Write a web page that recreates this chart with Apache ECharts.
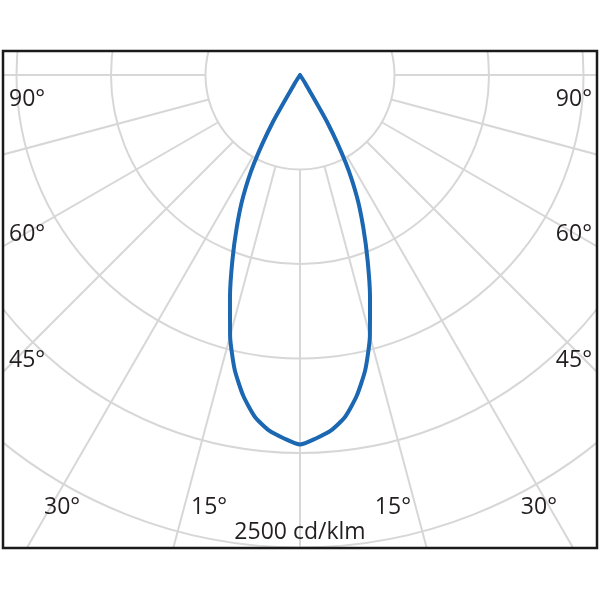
<!DOCTYPE html>
<html>
<head>
<meta charset="utf-8">
<script src="https://cdn.jsdelivr.net/npm/echarts@6/dist/echarts.min.js"></script>
<style>
html,body{margin:0;padding:0;background:#fff;}
#chart{width:600px;height:600px;}
</style>
</head>
<body>
<div id="chart"></div>
<script>
// Polar intensity profile (cd/klm), angle measured from nadir (degrees)
var profileAngles = [0, 2.5, 5, 7.5, 10, 12.5, 15, 17.5, 20, 22.5, 25, 27.5, 30, 32.5, 35];
var profileValues = [1955, 1925, 1888, 1825, 1725, 1597, 1429, 1232, 1047, 876, 714, 525, 287, 50, 0];
// Grid definition
var ringValues = [500, 1000, 1500, 2000, 2500, 3000, 3500];
var spokeAngles = [-90, -75, -60, -45, -30, -15, 0, 15, 30, 45, 60, 75, 90];
var angleLabels = ['90°', '60°', '45°', '30°', '15°'];
var scaleLabel = '2500 cd/klm';

var chart = echarts.init(document.getElementById('chart'));

// curve: right side uses negative angles, left side positive
var curve = [];
for (var i = profileAngles.length - 1; i >= 0; i--) curve.push([profileValues[i], -profileAngles[i]]);
for (var j = 1; j < profileAngles.length; j++) curve.push([profileValues[j], profileAngles[j]]);

var series = [];
spokeAngles.forEach(function (a) {
  series.push({
    type: 'line', coordinateSystem: 'polar', silent: true, symbol: 'none', z: 1,
    lineStyle: {color: '#d7d7d7', width: 2},
    data: [[ringValues[0], a], [ringValues[ringValues.length - 1], a]],
    animation: false
  });
});
series.push({
  type: 'line', coordinateSystem: 'polar', symbol: 'none', smooth: 0.2, z: 5,
  lineStyle: {color: '#1b67b2', width: 4, cap: 'round', join: 'round'},
  data: curve, animation: false
});

var font = '"Open Sans", "Noto Sans", sans-serif';
var tc = '#231f20';
function txt(t, x, y, align) {
  return {type: 'text', z: 30, style: {text: t, x: x, y: y, align: align || 'left', verticalAlign: 'middle', font: '23px ' + font, fill: tc}};
}
var graphics = [
  {type: 'rect', z: 20, shape: {x: 0, y: 0, width: 600, height: 50}, style: {fill: '#fff'}},
  {type: 'rect', z: 20, shape: {x: 0, y: 549, width: 600, height: 51}, style: {fill: '#fff'}},
  {type: 'rect', z: 20, shape: {x: 0, y: 0, width: 2, height: 600}, style: {fill: '#fff'}},
  {type: 'rect', z: 20, shape: {x: 598, y: 0, width: 2, height: 600}, style: {fill: '#fff'}},
  {type: 'rect', z: 25, shape: {x: 3, y: 51, width: 594, height: 497}, style: {fill: 'none', stroke: '#1a1a1a', lineWidth: 2.5}},
  txt(angleLabels[0], 9, 99), txt(angleLabels[0], 592, 99, 'right'),
  txt(angleLabels[1], 9, 234), txt(angleLabels[1], 592, 234, 'right'),
  txt(angleLabels[2], 9, 360), txt(angleLabels[2], 592, 360, 'right'),
  txt(angleLabels[3], 44, 507), txt(angleLabels[3], 557, 507, 'right'),
  txt(angleLabels[4], 191, 507), txt(angleLabels[4], 411, 507, 'right'),
  txt(scaleLabel, 300, 532, 'center')
];

chart.setOption({
  animation: false,
  backgroundColor: '#fff',
  polar: {center: [300, 75], radius: 661.5},
  angleAxis: {
    type: 'value', min: -180, max: 180, startAngle: 90, clockwise: true,
    axisLine: {show: false}, axisTick: {show: false}, axisLabel: {show: false}, splitLine: {show: false}
  },
  radiusAxis: {
    type: 'value', min: 0, max: 3500, interval: 500,
    axisLine: {show: false}, axisTick: {show: false}, axisLabel: {show: false},
    splitLine: {show: true, lineStyle: {color: '#d7d7d7', width: 2}}
  },
  series: series,
  graphic: graphics
});
</script>
</body>
</html>
